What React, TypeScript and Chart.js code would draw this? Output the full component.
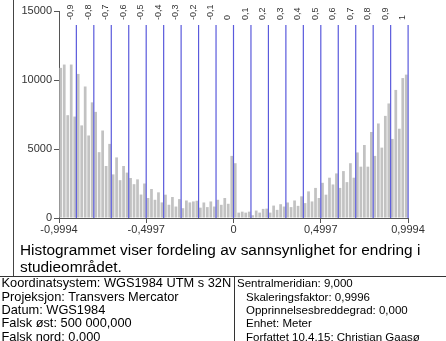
import React, { useEffect, useRef } from "react";
import { Chart, registerables } from "chart.js";

Chart.register(...registerables);

// ---- data ----
const xMin = -0.9994;
const xMax = 0.9994;
const binCounts = [
  10880, 11120, 7450, 11120, 7350, 10440, 6710, 9530, 5980, 8380,
  7690, 4770, 6340, 3770, 5370, 3160, 4390, 2740, 3770, 3290,
  2900, 2450, 2800, 1700, 2500, 1450, 2100, 1320, 1860, 1130,
  1690, 960, 1520, 830, 1370, 710, 1270, 1130, 1200, 1250,
  750, 1125, 790, 1200, 830, 1320, 955, 1450, 1030, 4500,
  3970, 390, 460, 390, 460, 200, 540, 390, 660, 680,
  390, 900, 590, 1000, 830, 1125, 790, 1270, 880, 1570,
  1080, 1930, 1200, 2180, 1450, 2550, 1690, 2920, 2430, 3230,
  2180, 3400, 2600, 3970, 2920, 4750, 3720, 5290, 3720, 6230,
  4500, 6850, 5100, 7400, 8300, 5730, 9280, 6470, 10140, 10390,
];
const xTickValues = [-0.9994, -0.4997, 0, 0.4997, 0.9994];
const yTickValues = [0, 5000, 10000, 15000];
const refLineValues = [
  -0.9, -0.8, -0.7, -0.6, -0.5, -0.4, -0.3, -0.2, -0.1, 0,
  0.1, 0.2, 0.3, 0.4, 0.5, 0.6, 0.7, 0.8, 0.9, 1,
];
const titleLines = [
  "Histogrammet viser fordeling av sannsynlighet for endring i",
  "studieområdet.",
];
const leftInfo = [
  "Koordinatsystem: WGS1984 UTM s 32N",
  "Projeksjon: Transvers Mercator",
  "Datum: WGS1984",
  "Falsk øst: 500 000,000",
  "Falsk nord: 0,000",
];
const rightInfo = [
  "Sentralmeridian: 9,000",
  "Skaleringsfaktor: 0,9996",
  "Opprinnelsesbreddegrad: 0,000",
  "Enhet: Meter",
  "Forfattet 10.4.15; Christian Gaasø",
];

const FONT = '"Liberation Sans", Arial, sans-serif';
const fmt = (v: number) => String(v).replace(".", ",");

const refLinesPlugin = {
  id: "refLines",
  afterDatasetsDraw(chart: any) {
    const { ctx, chartArea } = chart;
    const xs = chart.scales.x;
    ctx.save();
    refLineValues.forEach((v) => {
      const px = xs.getPixelForValue(v);
      ctx.strokeStyle = "#5a5adc";
      ctx.lineWidth = 1.2;
      ctx.beginPath();
      ctx.moveTo(px, chartArea.top + 14);
      ctx.lineTo(px, chartArea.bottom);
      ctx.stroke();
      ctx.save();
      ctx.translate(px - 5.5, chartArea.top + 9);
      ctx.rotate(-Math.PI / 2);
      ctx.font = `9px ${FONT}`;
      ctx.fillStyle = "#333";
      ctx.textAlign = "left";
      ctx.textBaseline = "middle";
      ctx.fillText(fmt(v), 0, 0);
      ctx.restore();
    });
    ctx.restore();
  },
};

function HistogramChart() {
  const ref = useRef<HTMLCanvasElement | null>(null);
  useEffect(() => {
    if (!ref.current) return;
    const binWidth = (xMax - xMin) / binCounts.length;
    const data = binCounts.map((c, i) => ({ x: xMin + (i + 0.5) * binWidth, y: c }));
    const chart = new Chart(ref.current, {
      type: "bar",
      data: {
        datasets: [
          {
            data: data as any,
            backgroundColor: "#c2c2c2",
            borderWidth: 0,
            categoryPercentage: 1,
            barPercentage: 0.78,
          },
        ],
      },
      options: {
        responsive: false,
        animation: false,
        layout: { padding: { top: 11, right: 38, left: 0, bottom: 0 } },
        plugins: { legend: { display: false }, tooltip: { enabled: false } },
        scales: {
          x: {
            type: "linear",
            min: xMin,
            max: xMax,
            offset: false,
            afterBuildTicks: (s: any) => {
              s.ticks = xTickValues.map((v) => ({ value: v }));
            },
            afterFit: (s: any) => {
              s.height = 27;
            },
            grid: {
              display: true,
              drawOnChartArea: false,
              drawTicks: true,
              tickLength: 5,
              color: "#555",
              offset: false,
            },
            border: { display: true, color: "#555", width: 1 },
            ticks: {
              autoSkip: false,
              maxRotation: 0,
              padding: 0,
              color: "#333",
              font: { family: FONT, size: 11 },
              callback: (v: any) => fmt(Number(v)),
            },
          },
          y: {
            min: 0,
            max: 15000,
            afterBuildTicks: (s: any) => {
              s.ticks = yTickValues.map((v) => ({ value: v }));
            },
            afterFit: (s: any) => {
              s.width = 45;
            },
            grid: {
              display: true,
              drawOnChartArea: false,
              drawTicks: true,
              tickLength: 5,
              color: "#555",
            },
            border: { display: true, color: "#555", width: 1 },
            ticks: {
              padding: 2,
              color: "#333",
              font: { family: FONT, size: 11 },
              callback: (v: any) => String(v),
            },
          },
        },
      },
      plugins: [refLinesPlugin],
    });
    return () => chart.destroy();
  }, []);
  return (
    <canvas
      ref={ref}
      width={432}
      height={245}
      style={{ position: "absolute", left: 14, top: 0, width: 432, height: 245 }}
    />
  );
}

export default function App() {
  const leftS = 12.8;
  const rightS = 11.5;
  const baselines = [288, 301.4, 314.8, 328.2, 341.6];
  return (
    <div
      style={{
        position: "fixed",
        left: 0,
        top: 0,
        width: 446,
        height: 341,
        overflow: "hidden",
        background: "#fff",
        fontFamily: FONT,
        color: "#000",
      }}
    >
      <div style={{ position: "absolute", left: 12.5, top: 0, width: 1.5, height: 276, background: "#444" }} />
      <HistogramChart />
      <div
        style={{
          position: "absolute",
          left: 20,
          top: 241.2,
          fontSize: 15.4,
          lineHeight: "17px",
          whiteSpace: "nowrap",
        }}
      >
        {titleLines.map((t) => (
          <div key={t}>{t}</div>
        ))}
      </div>
      <div style={{ position: "absolute", left: 0, top: 276, width: 446, height: 1, background: "#333" }} />
      <div style={{ position: "absolute", left: 234, top: 276, width: 1, height: 65, background: "#333" }} />
      {leftInfo.map((t, i) => (
        <div
          key={t}
          style={{
            position: "absolute",
            left: 1.5,
            top: baselines[i] - 0.8465 * leftS,
            fontSize: leftS,
            lineHeight: `${leftS}px`,
            whiteSpace: "nowrap",
          }}
        >
          {t}
        </div>
      ))}
      {rightInfo.map((t, i) => (
        <div
          key={t}
          style={{
            position: "absolute",
            left: i === 0 ? 237 : 246,
            top: baselines[i] - 0.8465 * rightS,
            fontSize: rightS,
            lineHeight: `${rightS}px`,
            whiteSpace: "nowrap",
          }}
        >
          {t}
        </div>
      ))}
    </div>
  );
}
